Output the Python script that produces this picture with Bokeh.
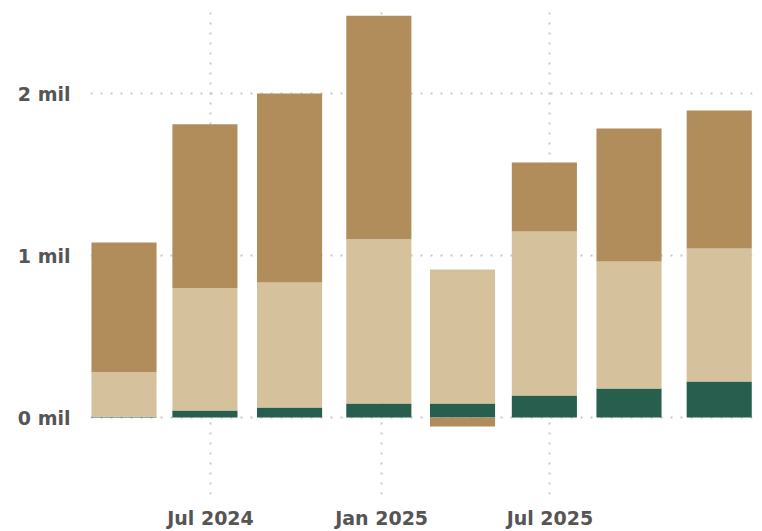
import datetime as dt
from bokeh.plotting import figure
from bokeh.models import ColumnDataSource, FixedTicker, DatetimeTickFormatter, PrintfTickFormatter, Range1d
from bokeh.embed import file_html
from bokeh.resources import INLINE

# Data (millions)
dates = ["2024-03-30", "2024-06-25", "2024-09-24", "2024-12-29",
         "2025-03-29", "2025-06-25", "2025-09-24", "2025-12-30"]
green = [0.005, 0.043, 0.062, 0.086, 0.086, 0.136, 0.179, 0.222]
tan = [0.275, 0.757, 0.771, 1.014, 0.828, 1.012, 0.784, 0.821]
brown = [0.800, 1.010, 1.167, 1.380, -0.056, 0.426, 0.821, 0.852]
series = [("green", green, "#285E4E"), ("tan", tan, "#D5C19B"), ("brown", brown, "#B08D5B")]
x_ticks = ["2024-07-01", "2025-01-01", "2025-07-01"]
y_ticks = [0, 1, 2]

def ms(s):
    d = dt.datetime.strptime(s, "%Y-%m-%d")
    return (d - dt.datetime(1970, 1, 1)).total_seconds() * 1000

DAY = 86400000.0
xs = [ms(d) for d in dates]

p = figure(width=760, height=531, x_axis_type="datetime", output_backend="svg",
           toolbar_location=None, min_border_left=90, min_border_right=8,
           min_border_top=9, min_border_bottom=20, outline_line_color=None)

px_per_day = 0.93
ref = ms("2024-07-01")
left_px, right_px = 90, 752
p.x_range = Range1d(ref - (210 - left_px) / px_per_day * DAY, ref + (right_px - 210) / px_per_day * DAY)
frame_top, frame_bottom = 9, 494
p.y_range = Range1d((417 - frame_bottom) / 162.0, (417 - frame_top) / 162.0)

pos = [0.0] * len(xs)
neg = [0.0] * len(xs)
for name, vals, color in series:
    bottoms, tops = [], []
    for i, v in enumerate(vals):
        if v >= 0:
            bottoms.append(pos[i]); tops.append(pos[i] + v); pos[i] += v
        else:
            bottoms.append(neg[i]); tops.append(neg[i] + v); neg[i] += v
    src = ColumnDataSource(dict(x=xs, bottom=bottoms, top=tops))
    p.vbar(x="x", bottom="bottom", top="top", width=70 * DAY, source=src,
           fill_color=color, line_color=None)

for ax in (p.xaxis, p.yaxis):
    ax.axis_line_color = None
    ax.major_tick_line_color = None
    ax.minor_tick_line_color = None
    ax.major_label_text_color = "#555555"
    ax.major_label_text_font = "DejaVu Sans"
    ax.major_label_text_font_size = "19px"
    ax.major_label_text_font_style = "bold"

p.xaxis.ticker = FixedTicker(ticks=[ms(t) for t in x_ticks])
fmt = "%b %Y"
p.xaxis.formatter = DatetimeTickFormatter(months=fmt, days=fmt, years=fmt, hours=fmt, minutes=fmt)
p.xaxis.major_label_standoff = 6
p.yaxis.ticker = FixedTicker(ticks=y_ticks)
p.yaxis.formatter = PrintfTickFormatter(format="%d mil")
p.yaxis.major_label_standoff = 14

for g in (p.xgrid, p.ygrid):
    g.grid_line_color = "#c8c8c8"
    g.grid_line_width = 2
    g.grid_line_dash = "2 8"
p.xgrid.ticker = p.xaxis.ticker
p.ygrid.ticker = p.yaxis.ticker

open("out.html", "w").write(file_html(p, INLINE))
